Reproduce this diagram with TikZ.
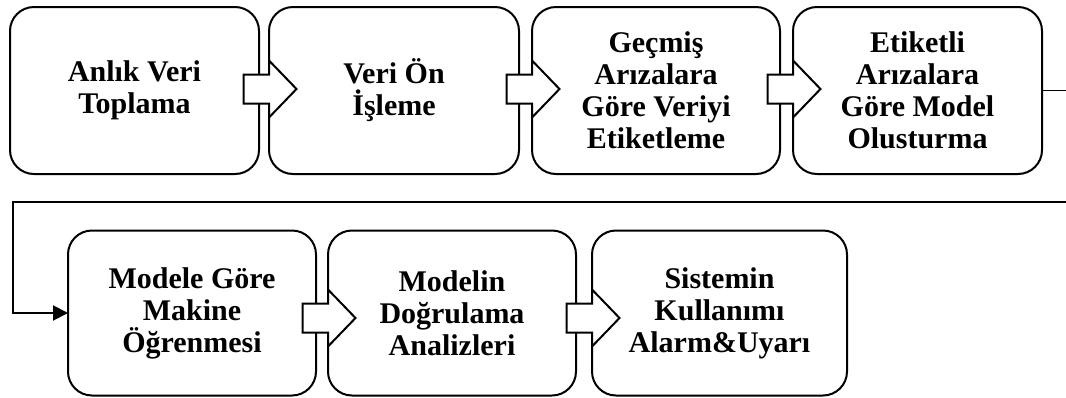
\documentclass[tikz,border=0pt]{standalone}
\usepackage{fontspec}
\setmainfont{Liberation Serif}
\usetikzlibrary{arrows.meta,calc}
\newcommand{\flowarrow}[2]{%
  \draw[blockarrow] ($(#1.west)+(-25.5,#2-14.5)$) -- ++(25.5,0) -- ++(0,-14)
    -- ++(27.5,28.5) -- ++(-27.5,28.5) -- ++(0,-14) -- ++(-25.5,0) -- cycle;}
\begin{document}
\begin{tikzpicture}[x=1pt,y=-1pt,
  stepbox/.style={draw=black, line width=2pt, rounded corners=24pt, fill=white,
    minimum width=249pt, minimum height=167pt, outer sep=0pt, inner sep=0pt,
    align=center, font=\fontsize{30}{32}\selectfont\bfseries},
  lowbox/.style={stepbox, minimum height=165pt},
  blockarrow/.style={draw=black, line width=2pt, fill=white, line join=miter},
  thinlink/.style={draw=black, line width=1.3pt},
  link/.style={draw=black, line width=2pt},
]
\useasboundingbox (0,0) rectangle (1066,397);
% row 1
\node[stepbox] (b1) at (134.5,90.5) {Anlık Veri\\Toplama};
\node[stepbox, minimum width=250pt] (b2) at (394,90.5) {Veri Ön\\İşleme};
\node[stepbox, minimum width=248pt] (b3) at (656,90.5) {Geçmiş\\Arızalara\\Göre Veriyi\\Etiketleme};
\node[stepbox] (b4) at (917.5,90.5) {Etiketli\\Arızalara\\Göre Model\\Olusturma};
% row 2
\node[lowbox, minimum width=248pt] (b5) at (192,313) {Modele Göre\\Makine\\Öğrenmesi};
\node[lowbox, minimum width=248pt] (b6) at (452,313) {Modelin\\Doğrulama\\Analizleri};
\node[lowbox, minimum width=255pt] (b7) at (719.5,313) {Sistemin\\Kullanımı\\Alarm\&Uyarı};
% block arrows
\flowarrow{b2}{-1.5}
\flowarrow{b3}{-1.5}
\flowarrow{b4}{-1.5}
\flowarrow{b6}{5}
\flowarrow{b7}{5}
% connector from row 1 to row 2
\coordinate (c1) at (1080,90.5);
\coordinate (c2) at (13.3,202);
\draw[thinlink] (b4.east) -- (c1);
\draw[link, -{Triangle[length=15pt,width=15pt]}] (c1) |- (c2) |- (b5.west);
\end{tikzpicture}
\end{document}
